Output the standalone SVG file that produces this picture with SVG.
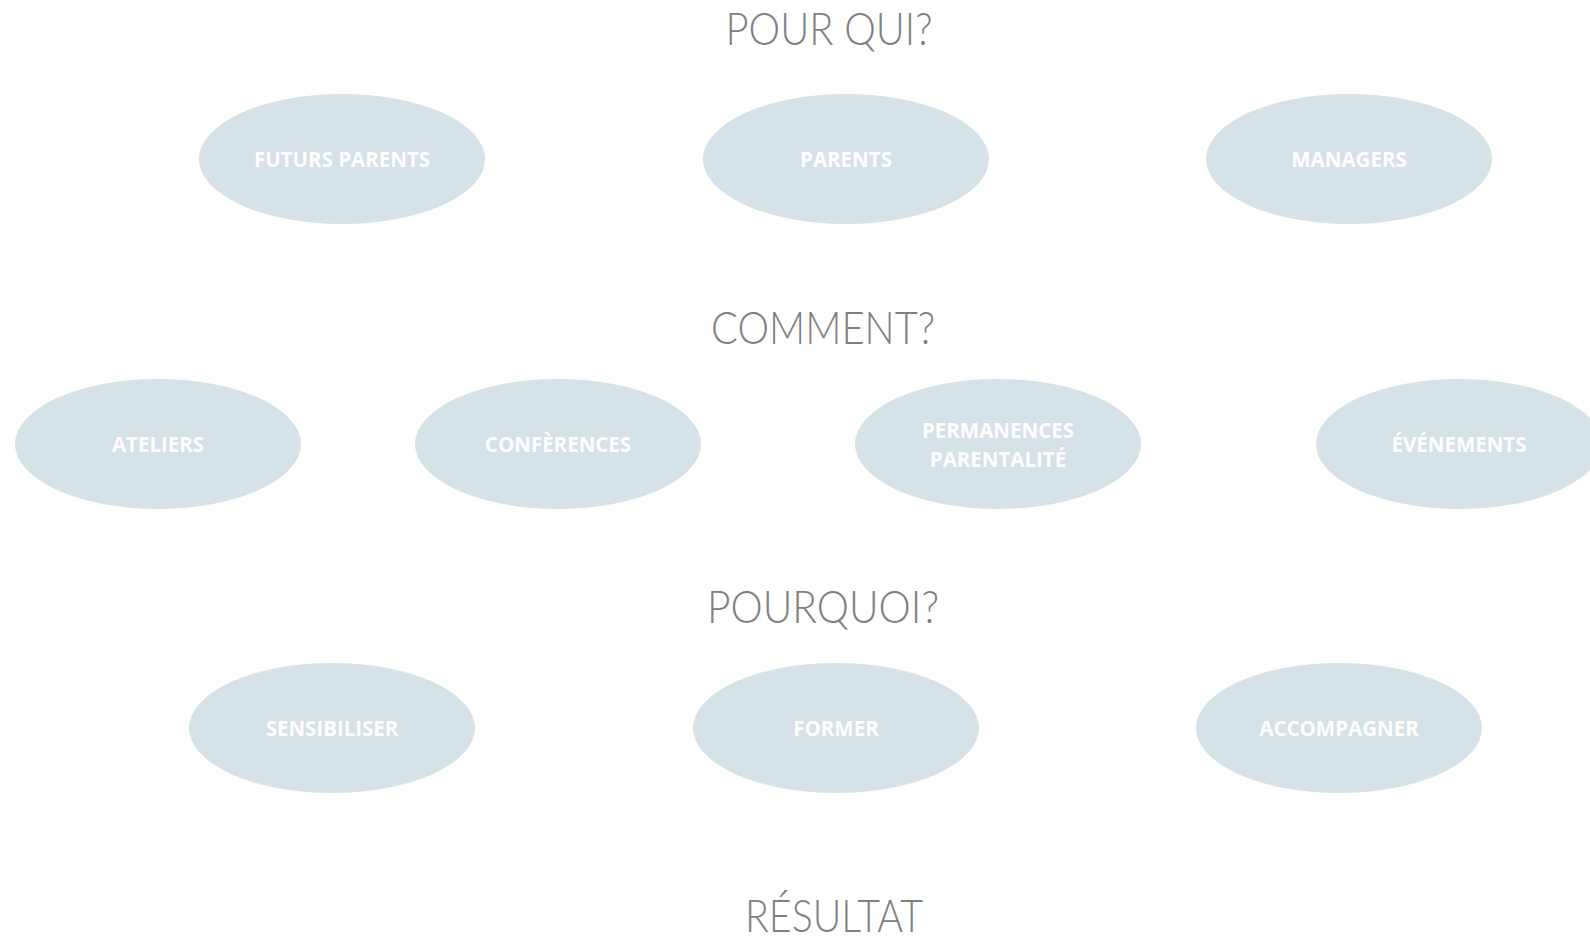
<svg xmlns="http://www.w3.org/2000/svg" width="1590" height="940" viewBox="0 0 1590 940">
<style>
.t{font-family:"Lato","Inter","Liberation Sans",sans-serif;font-weight:300;font-size:46px;fill:#7f7f7f;text-anchor:middle}
.e{fill:#d5e2e8}
.n{font-family:"Open Sans","Liberation Sans",sans-serif;font-weight:700;font-size:20.5px;fill:#ffffff;text-anchor:middle}
</style>
<rect width="1590" height="940" fill="#ffffff"/>
<g id="titles">
<text class="t" x="829" y="45" textLength="207" lengthAdjust="spacingAndGlyphs">POUR QUI?</text>
<text class="t" x="823" y="344" textLength="224" lengthAdjust="spacingAndGlyphs">COMMENT?</text>
<text class="t" x="823" y="623" textLength="232" lengthAdjust="spacingAndGlyphs">POURQUOI?</text>
<text class="t" x="834" y="932" textLength="178" lengthAdjust="spacingAndGlyphs">RÉSULTAT</text>
</g>
<g id="connectors"></g>
<g id="futurs-parents"><ellipse class="e" cx="342" cy="159" rx="143" ry="65"/><text class="n" x="342" y="167">FUTURS PARENTS</text></g>
<g id="parents"><ellipse class="e" cx="846" cy="159" rx="143" ry="65"/><text class="n" x="846" y="167">PARENTS</text></g>
<g id="managers"><ellipse class="e" cx="1349" cy="159" rx="143" ry="65"/><text class="n" x="1349" y="167">MANAGERS</text></g>
<g id="ateliers"><ellipse class="e" cx="158" cy="444" rx="143" ry="65"/><text class="n" x="158" y="452">ATELIERS</text></g>
<g id="conferences"><ellipse class="e" cx="558" cy="444" rx="143" ry="65"/><text class="n" x="558" y="452">CONFÈRENCES</text></g>
<g id="permanences"><ellipse class="e" cx="998" cy="444" rx="143" ry="65"/><text class="n" x="998" y="438">PERMANENCES</text><text class="n" x="998" y="467">PARENTALITÉ</text></g>
<g id="evenements"><ellipse class="e" cx="1459" cy="444" rx="143" ry="65"/><text class="n" x="1459" y="452">ÉVÉNEMENTS</text></g>
<g id="sensibiliser"><ellipse class="e" cx="332" cy="728" rx="143" ry="65"/><text class="n" x="332" y="736">SENSIBILISER</text></g>
<g id="former"><ellipse class="e" cx="836" cy="728" rx="143" ry="65"/><text class="n" x="836" y="736">FORMER</text></g>
<g id="accompagner"><ellipse class="e" cx="1339" cy="728" rx="143" ry="65"/><text class="n" x="1339" y="736">ACCOMPAGNER</text></g>
</svg>
